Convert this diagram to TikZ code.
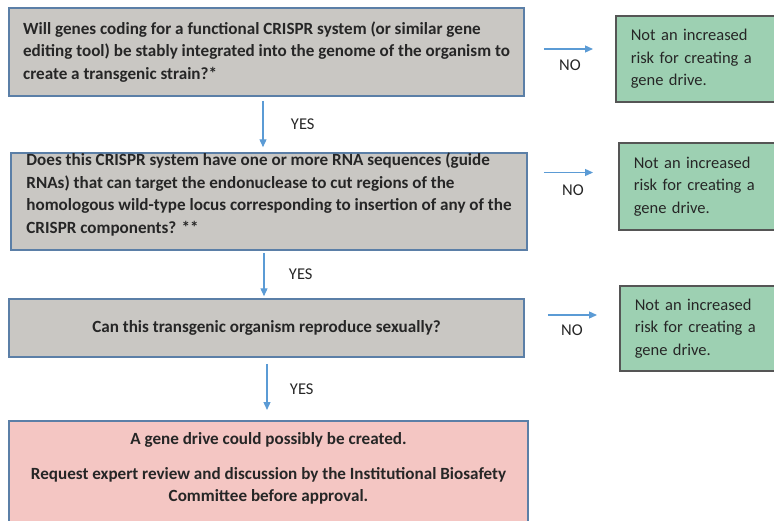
\documentclass[tikz,border=0pt]{standalone}
\usepackage{fontspec}
\setmainfont{Carlito}
\usetikzlibrary{arrows.meta,calc,positioning}
\definecolor{qfill}{HTML}{C9C7C3}
\definecolor{qline}{HTML}{5B7FA7}
\definecolor{okfill}{HTML}{9DD0B2}
\definecolor{okline}{HTML}{555555}
\definecolor{gdfill}{HTML}{F4C6C3}
\definecolor{flowc}{HTML}{5B9BD5}
\definecolor{ink}{HTML}{262626}
\newcommand\boxsize{\fontsize{16.5}{22.5}\selectfont}
\newcommand\quessize{\fontsize{17.1}{22.5}\selectfont}
\tikzset{ques/.style={draw=qline, line width=1.5pt, fill=qfill, text=ink, font=\quessize\bfseries,
    align=left, inner xsep=0pt, inner ysep=0pt},
  safe/.style={draw=okline, line width=1.5pt, fill=okfill, text=ink, align=left, font=\boxsize,
    anchor=north west, inner xsep=15pt, inner ysep=0pt, text width=150pt},
  flow/.style={-{Triangle[length=8pt, width=7pt]}, line width=1.3pt, draw=flowc},
  lab/.style={text=ink, font=\boxsize}}

\begin{document}
\begin{tikzpicture}[x=1pt, y=-1pt]
  \clip (0,0) rectangle (774,520);
  \useasboundingbox (0,0) rectangle (774,520);
  % questions
  \node[ques, minimum width=515pt, minimum height=88pt] (q1) at (266.5,52)
    {Will genes coding for a functional CRISPR system (or similar gene\\
     editing tool) be stably integrated into the genome of the organism to\\
     create a transgenic strain?*};
  \node[ques, minimum width=516pt, minimum height=97pt] (q2) at (269,201.5)
    {Does this CRISPR system have one or more RNA sequences (guide\\
     RNAs) that can target the endonuclease to cut regions of the\\
     homologous wild-type locus corresponding to insertion of any of the\\
     CRISPR components? **\\[-6pt]};
  \node[ques, align=center, minimum width=515pt, minimum height=58pt] (q3) at (266.5,328)
    {Can this transgenic organism reproduce sexually?};
  % outcome, runs past the lower edge
  \node[ques, fill=gdfill, align=center, anchor=north, minimum width=519pt,
    inner ysep=12pt] (gd) at (268.5,420)
    {A gene drive could possibly be created.\\[12pt]
     Request expert review and discussion by the Institutional Biosafety\\
     Committee before approval.\\ \rule{0pt}{30pt}};
  % no risk boxes
  \node[safe, minimum height=86pt] (r1) at (615,15) {Not an increased\\ risk for creating a\\ gene drive.};
  \node[safe, minimum height=87pt] (r2) at (618,142) {Not an increased\\ risk for creating a\\ gene drive.};
  \node[safe, minimum height=85pt] (r3) at (619,285) {Not an increased\\ risk for creating a\\ gene drive.};
  % NO branches
  \draw[flow, shorten <=19pt, shorten >=22pt] ([yshift=3pt]q1.east) -- ([yshift=3pt]q1.east -| r1.west)
    node[lab, midway, below=7pt] {NO};
  \draw[flow, shorten <=16pt, shorten >=25pt] ([yshift=29pt]q2.east) -- ([yshift=29pt]q2.east -| r2.west)
    node[lab, midway, below=8pt] {NO};
  \draw[flow, shorten <=23pt, shorten >=22pt] ([yshift=13pt]q3.east) -- ([yshift=13pt]q3.east -| r3.west)
    node[lab, midway, below=6pt] {NO};
  % YES branches
  \draw[flow, shorten <=4pt, shorten >=5pt] ([xshift=-3.5pt]q1.south) -- ([xshift=-3.5pt]q1.south |- q2.north)
    node[lab, midway, right=24pt] {YES};
  \draw[flow, shorten <=2pt, shorten >=2pt] ([xshift=-5pt]q2.south) -- ([xshift=-5pt]q2.south |- q3.north)
    node[lab, midway, right=21pt] {YES};
  \draw[flow, shorten <=6pt, shorten >=10pt] ([xshift=0.5pt]q3.south) -- ([xshift=0.5pt]q3.south |- gd.north)
    node[lab, midway, right=19pt] {YES};
\end{tikzpicture}
\end{document}
